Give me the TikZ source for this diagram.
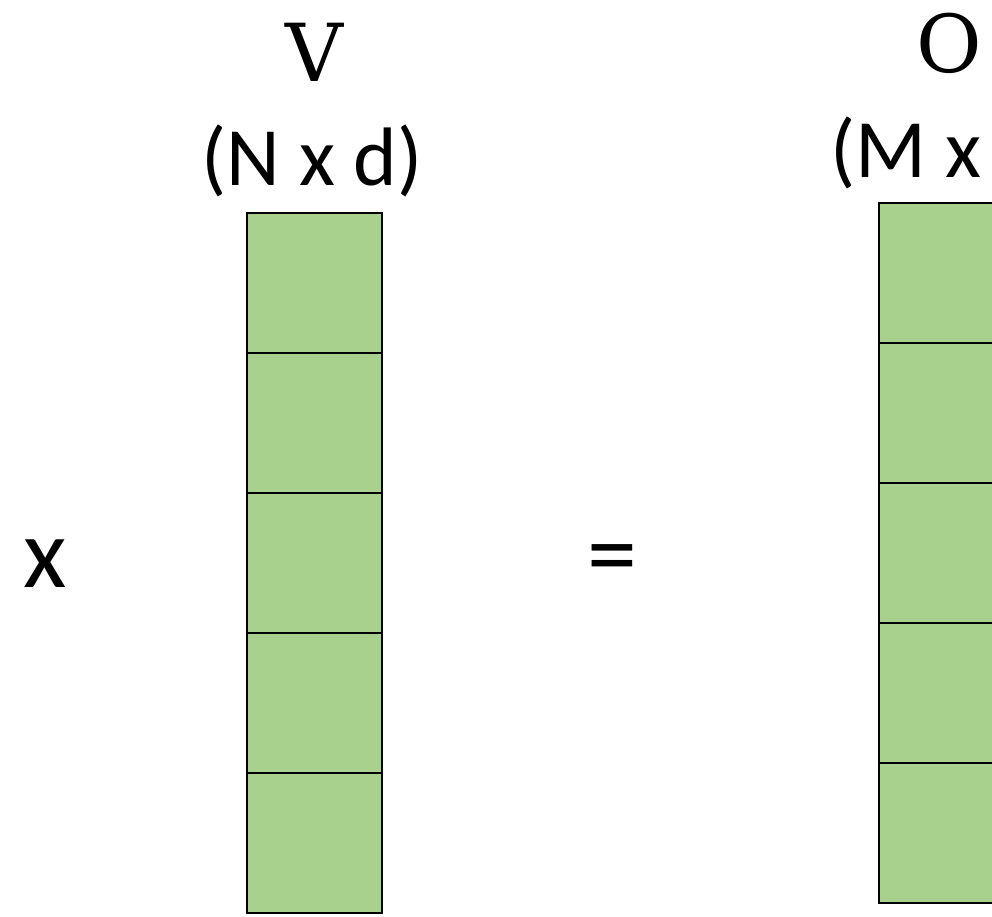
\documentclass[tikz,border=0pt]{standalone}
\usepackage{fontspec}
\setmainfont{Carlito}
\newfontfamily\symbfont{DejaVu Serif}
\usepackage{tikz}
\usetikzlibrary{positioning, calc}
\definecolor{cellgreen}{HTML}{A9D18E}
\tikzstyle{cell}=[draw=black, fill=cellgreen, line width=2.8pt,
  minimum width=135pt, minimum height=140pt, inner sep=0pt, outer sep=0pt]
\tikzstyle{dimLabel}=[inner sep=0pt, anchor=base, font=\fontsize{83}{98}\selectfont]
\tikzstyle{nameLabel}=[inner sep=0pt, anchor=base, font=\symbfont\fontsize{80}{94}\selectfont]
\tikzstyle{opLabel}=[inner sep=0pt, anchor=base, font=\fontsize{100}{120}\selectfont]

\begin{document}
\begin{tikzpicture}[x=1pt, y=-1pt]
      \useasboundingbox (0,0) rectangle (992,916);
      \clip (0,0) rectangle (992,916);
      \coordinate (vtop) at (314.5,213);
      \coordinate (otop) at (946.5,203);

      % columns of cells
      \foreach \i in {1,...,5}
      \node[cell] (v\i) at ($(vtop)+(0,140*\i-70)$) {};
      \foreach \i in {1,...,5}
      \node[cell] (o\i) at ($(otop)+(0,140*\i-70)$) {};

      \node[nameLabel] (vname) at (314,81) {V};
      \node[dimLabel] (vdim) at (312,185) {(N x d)};
      \node[nameLabel] (oname) at (949,72) {O};
      \node[dimLabel, anchor=base west] (odim) at (830,177) {(M x};

      \node[opLabel] (times) at (45,587) {x};
      \node[opLabel] (equals) at (612,587) {=};
    \end{tikzpicture}
\end{document}
